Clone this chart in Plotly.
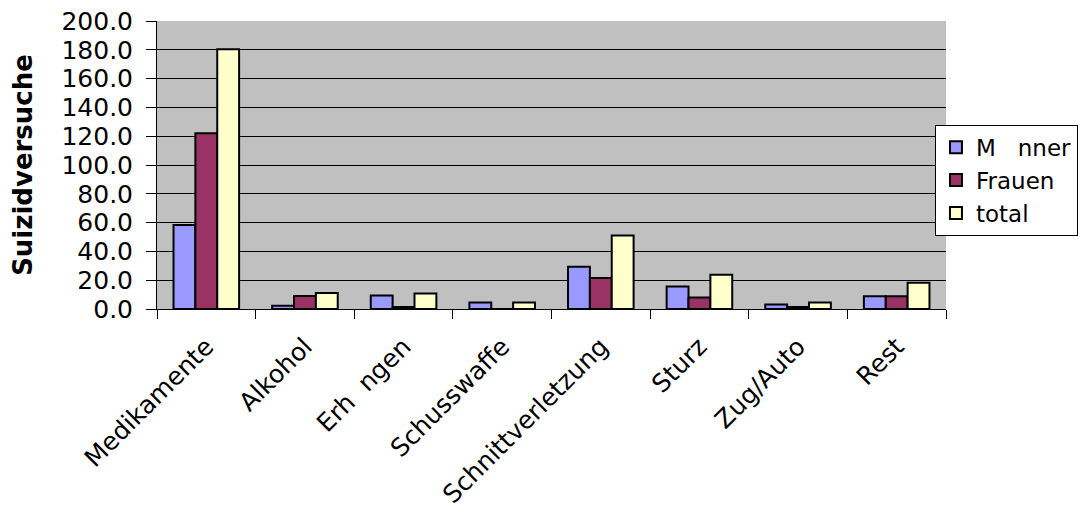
import plotly.graph_objects as go

categories = ["Medikamente", "Alkohol", "Erh  ngen", "Schusswaffe", "Schnittverletzung", "Sturz", "Zug/Auto", "Rest"]
maenner = [58.3, 2.3, 9.3, 4.6, 29.3, 15.7, 3.2, 8.8]
frauen = [122.0, 9.0, 1.4, 0.0, 21.5, 7.9, 1.4, 8.8]
total = [180.3, 11.1, 10.7, 4.6, 51.0, 23.8, 4.5, 18.3]
series_names = ["M   nner", "Frauen", "total"]
colors = ["#9999FF", "#993366", "#FFFFCC"]
y_ticks = [0, 20, 40, 60, 80, 100, 120, 140, 160, 180, 200]

fig = go.Figure()
for name, vals, col in zip(series_names, [maenner, frauen, total], colors):
    fig.add_trace(go.Bar(
        x=categories, y=vals, name=name,
        marker=dict(color=col, line=dict(color="black", width=2)),
    ))

font = "DejaVu Sans, Arial, sans-serif"
fig.update_layout(
    width=1086, height=516,
    margin=dict(l=149, r=148, t=13, b=215, autoexpand=False),
    paper_bgcolor="white", plot_bgcolor="#C0C0C0",
    barmode="group", bargap=0.335, bargroupgap=0,
    font=dict(family=font, size=26, color="black"),
    showlegend=True,
    legend=dict(
        x=0.986, y=0.64, xanchor="left", yanchor="top",
        bgcolor="white", bordercolor="black", borderwidth=1,
        font=dict(family=font, size=23, color="black"),
        itemsizing="constant",
    ),
    xaxis=dict(
        showline=True, linecolor="black", linewidth=1,
        ticks="outside", tickson="boundaries", ticklen=9, tickcolor="black",
        tickangle=-45, tickfont=dict(size=25), ticklabelstandoff=12,
        showgrid=False, automargin=False,
    ),
    yaxis=dict(
        range=[0, 200], tickvals=y_ticks, tickformat=".1f",
        showline=True, linecolor="black", linewidth=1,
        ticks="outside", ticklen=10, tickcolor="black",
        showgrid=True, gridcolor="black", gridwidth=1,
        zeroline=False, automargin=False, ticklabeloverflow="allow",
        tickfont=dict(size=25), ticklabelstandoff=8,
        title=dict(text="<b>Suizidversuche</b>", font=dict(size=26), standoff=26),
    ),
)

fig.write_html("out.html")
